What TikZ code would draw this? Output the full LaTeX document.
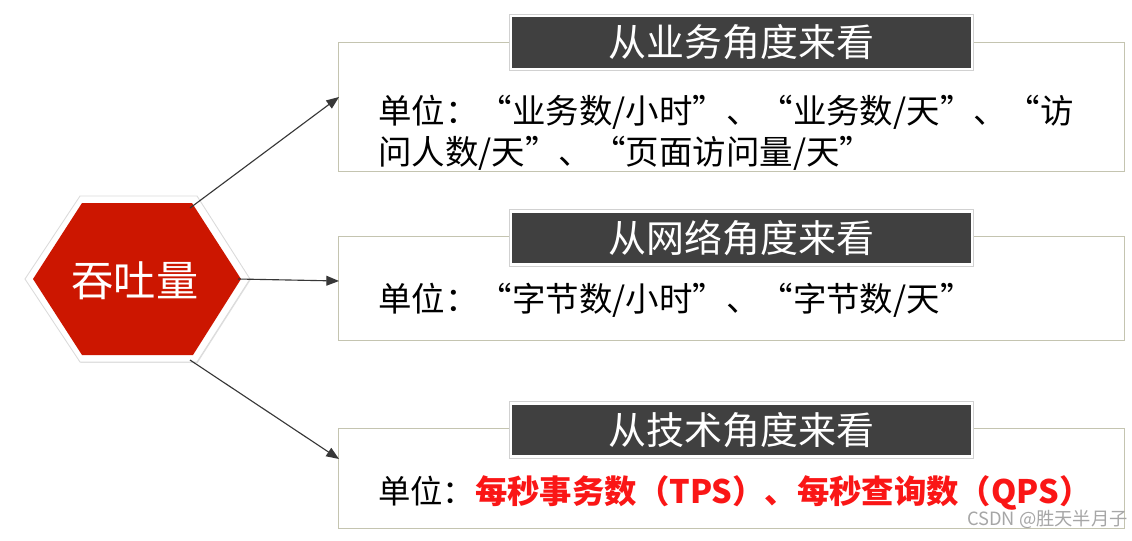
\documentclass[tikz,border=0pt]{standalone}
\usepackage{fontspec}
\setmainfont{Noto Sans CJK SC}
\usetikzlibrary{arrows.meta,shadows}

\definecolor{hexred}{RGB}{204,22,0}
\definecolor{tagfill}{RGB}{64,64,64}
\definecolor{panelline}{RGB}{196,196,176}
\definecolor{rateRed}{RGB}{250,22,22}
\definecolor{linkgray}{RGB}{55,55,55}

\tikzset{
    panel/.style={draw=panelline, line width=0.6pt, fill=white, minimum width=19.625cm, inner sep=0pt},
    tag/.style={fill=tagfill, draw=white, line width=1.6pt, text=white, minimum width=11.525cm,
        minimum height=1.325cm, inner sep=0pt, font=\fontsize{27}{31}\selectfont,
        preaction={draw=black!18, line width=3.2pt},
        drop shadow={shadow xshift=0.5pt, shadow yshift=-0.7pt, opacity=0.35}},
    unit/.style={anchor=west, inner sep=0pt, font=\fontsize{23.8}{28}\selectfont},
    link/.style={draw=linkgray, line width=0.8pt, -{Triangle[length=9pt,width=7pt]}},
}

\begin{document}
\begin{tikzpicture}[x=0.025cm, y=-0.025cm]

\useasboundingbox (0,0) rectangle (1132,540);
\fill[white] (0,0) rectangle (1132,540);

% ===== Hexagon =====
\filldraw[fill=white, draw=black!14, line width=0.6pt,
    drop shadow={shadow xshift=0.5pt, shadow yshift=-0.6pt, opacity=0.25}]
    (25,279) -- (80,196) -- (197,196) -- (250,279) -- (197,362) -- (80,362) -- cycle;
\fill[hexred] (33,279) -- (82,203) -- (192,203) -- (241,279) -- (193,355) -- (82,355) -- cycle;
\node[text=white, font=\fontsize{30}{34}\selectfont] (hub) at (135,281) {吞吐量};

\coordinate (hubNE) at (190,208);
\coordinate (hubE)  at (238,279);
\coordinate (hubSE) at (190,360);

% ===== Panels and tags =====
\foreach \i/\y/\h/\ty/\t in {1/106.5/3.225/42.5/从业务角度来看,
                            2/288/2.6/238/从网络角度来看,
                            3/478/2.5/430/从技术角度来看} {
    \node[panel, minimum height=\h cm] (panel\i) at (731.5,\y) {};
    \node[tag] (tag\i) at (741.5,\ty) {\t};
}

% ===== Units =====
\node[unit] (u1a) at (378,112) {单位：“业务数/小时”、“业务数/天”、“访};
\node[unit] (u1b) at (378,153) {问人数/天”、“页面访问量/天”};
\node[unit] (u2)  at (378,300) {单位：“字节数/小时”、“字节数/天”};
\node[unit, font=\fontsize{23}{27}\selectfont] (u3) at (378,493)
    {单位：\textcolor{rateRed}{\bfseries 每秒事务数（TPS）、每秒查询数（QPS）}};

% ===== Arrows =====
\coordinate (in1) at (339,97);
\coordinate (in2) at (339,281);
\coordinate (in3) at (339,459);
\draw[link] (hubNE) -- (in1);
\draw[link] (hubE) -- (in2);
\draw[link] (hubSE) -- (in3);

% ===== Watermark =====
\node[anchor=east, inner sep=0pt, text=black!35, font=\fontsize{13}{15}\selectfont] (mark) at (1128,519) {CSDN @胜天半月子};

\end{tikzpicture}
\end{document}
